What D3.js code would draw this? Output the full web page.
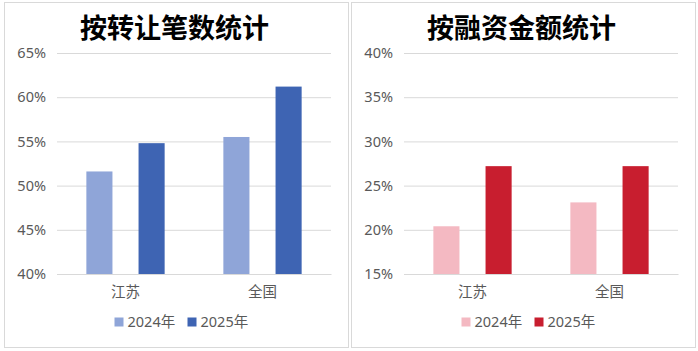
<!DOCTYPE html>
<html>
<head>
<meta charset="utf-8">
<script src="https://cdn.jsdelivr.net/npm/d3@7"></script>
<style>
	body { margin: 0; background: #fff; }
	text { font-family: "Noto Sans", "Noto Sans CJK SC", sans-serif; }
</style>
</head>
<body>
<svg width="698" height="351"></svg>
<script>
const categories = ["江苏", "全国"];
const seriesNames = ["2024年", "2025年"];

// 按转让笔数统计 (%)
const countTicks = [40, 45, 50, 55, 60, 65];
const count2024 = [51.6, 55.5];
const count2025 = [54.8, 61.2];

// 按融资金额统计 (%)
const amountTicks = [15, 20, 25, 30, 35, 40];
const amount2024 = [20.4, 23.1];
const amount2025 = [27.2, 27.2];

const svg = d3.select("svg");

const render = (opts) => {
	const { x, y, w, h, title, ticks, series, colors } = opts;
	const margin = { top: 51, right: 18, bottom: 74, left: 53 };
	const innerWidth = w - margin.left - margin.right;
	const innerHeight = h - margin.top - margin.bottom;

	const chart = svg.append("g")
		.attr("transform", `translate(${x}, ${y})`);

	chart.append("rect")
		.attr("x", 0.5).attr("y", 0.5)
		.attr("width", w - 1).attr("height", h - 1)
		.attr("fill", "#fff")
		.attr("stroke", "#d9d9d9");

	chart.append("text")
		.attr("x", w / 2 - 2)
		.attr("y", 36)
		.attr("text-anchor", "middle")
		.attr("font-size", 27)
		.attr("font-weight", "bold")
		.style("font-family", "'Noto Sans CJK SC', sans-serif")
		.attr("fill", "#000")
		.text(title);

	const group = chart.append("g")
		.attr("transform", `translate(${margin.left}, ${margin.top})`);

	const yScale = d3.scaleLinear()
		.domain([d3.min(ticks), d3.max(ticks)])
		.range([innerHeight, 0]);

	const x0 = d3.scaleBand()
		.domain(categories)
		.range([0, innerWidth])
		.paddingInner(0.4286)
		.paddingOuter(0.2143);

	const x1 = d3.scaleBand()
		.domain(seriesNames)
		.range([0, x0.bandwidth()])
		.paddingInner(0.5);

	const yAxis = d3.axisLeft(yScale)
		.tickValues(ticks)
		.tickFormat(d => d + "%")
		.tickSize(-innerWidth)
		.tickPadding(11);

	const yAxisGroup = group.append("g").call(yAxis);
	yAxisGroup.select(".domain").remove();
	yAxisGroup.selectAll(".tick line").attr("stroke", "#d9d9d9");
	yAxisGroup.selectAll(".tick text")
		.attr("fill", "#595959")
		.attr("font-size", 14.5);

	const rows = categories.map((c, i) => ({ cat: c, values: series.map((s, j) => ({ name: seriesNames[j], value: s[i] })) }));

	group.selectAll(".cat").data(rows)
		.enter().append("g")
			.attr("class", "cat")
			.attr("transform", d => `translate(${x0(d.cat)}, 0)`)
		.selectAll("rect").data(d => d.values)
		.enter().append("rect")
			.attr("x", d => x1(d.name))
			.attr("y", d => yScale(d.value))
			.attr("width", x1.bandwidth())
			.attr("height", d => innerHeight - yScale(d.value))
			.attr("fill", (d, j) => colors[j]);

	const xAxisGroup = group.append("g")
		.attr("transform", `translate(0, ${innerHeight})`)
		.call(d3.axisBottom(x0).tickSize(0).tickPadding(13));
	xAxisGroup.select(".domain").attr("stroke", "#d9d9d9");
	xAxisGroup.selectAll(".tick text")
		.attr("fill", "#595959")
		.attr("font-size", 14.5)
		.style("font-family", "'Noto Sans CJK SC', sans-serif");

	// legend
	const legend = chart.append("g")
		.attr("transform", `translate(${w / 2 - 62}, ${h - 26})`);
	const items = legend.selectAll("g").data(seriesNames)
		.enter().append("g")
			.attr("transform", (d, i) => `translate(${i * 73}, 0)`);
	items.append("rect")
		.attr("x", 0).attr("y", -4.5)
		.attr("width", 9).attr("height", 9)
		.attr("fill", (d, i) => colors[i]);
	items.append("text")
		.attr("x", 13).attr("y", 0)
		.attr("dy", "0.35em")
		.attr("font-size", 14.5)
		.attr("fill", "#595959")
		.text(d => d);
};

render({
	x: 4, y: 2, w: 345, h: 346,
	title: "按转让笔数统计",
	ticks: countTicks,
	series: [count2024, count2025],
	colors: ["#8fa5d8", "#3e64b3"]
});

render({
	x: 351, y: 2, w: 345, h: 346,
	title: "按融资金额统计",
	ticks: amountTicks,
	series: [amount2024, amount2025],
	colors: ["#f4b9c2", "#c81e2f"]
});
</script>
</body>
</html>
